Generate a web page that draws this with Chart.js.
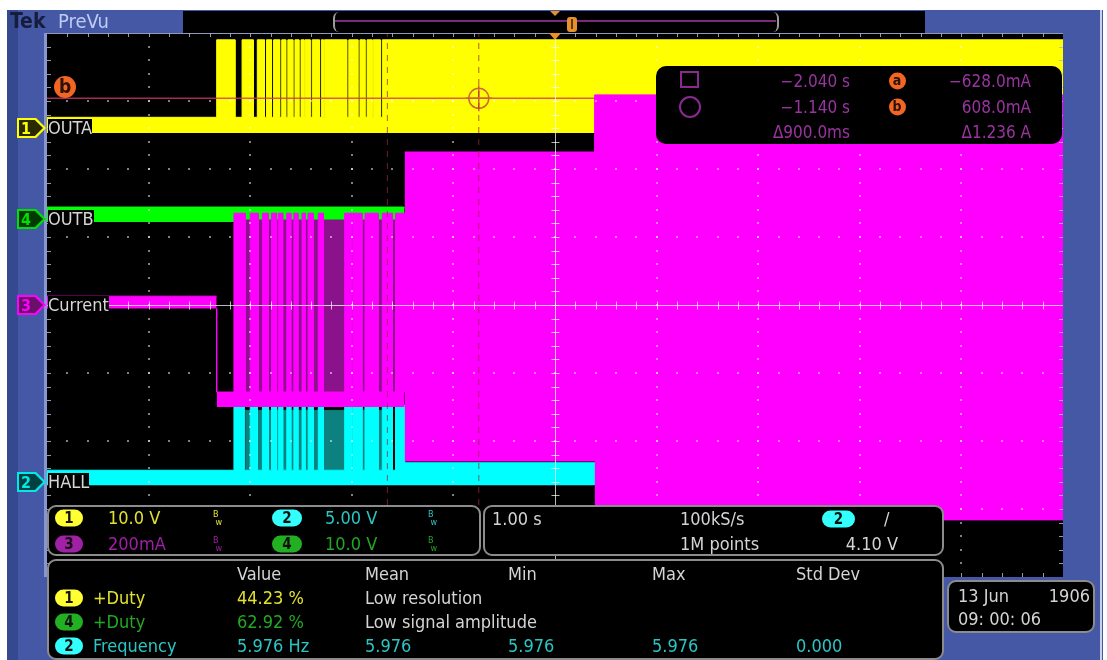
<!DOCTYPE html>
<html>
<head>
<meta charset="utf-8">
<script src="https://cdn.jsdelivr.net/npm/chart.js@4.4.0/dist/chart.umd.min.js"></script>
<style>
html, body { margin: 0; padding: 0; background: #fff; }
body { width: 1107px; height: 660px; overflow: hidden; position: relative;
  font-family: "DejaVu Sans Condensed", "Liberation Sans Narrow", "DejaVu Sans", sans-serif; font-stretch: condensed; }
.box { position: absolute; }
.t { position: absolute; white-space: nowrap; line-height: 1; transform: translateY(-50%); }
.panel { position: absolute; background: #000; border: 2px solid #8c8c8c; border-radius: 9px; box-sizing: border-box; }
#scope { position: absolute; left: 47px; top: 33px; background: #000; }
#overlay { position: absolute; left: 0; top: 0; width: 1107px; height: 660px; }
</style>
</head>
<body>
<div class="box" style="left:7px;top:10px;width:1096px;height:650px;background:#4458a6"></div>
<div class="box" style="left:7px;top:10px;width:11px;height:650px;background:#34498f"></div>
<div class="box" style="left:44px;top:33px;width:3px;height:544px;background:#8796cf"></div>
<div class="box" style="left:1100px;top:10px;width:2px;height:650px;background:#c9d0ea"></div>
<div class="box" style="left:183px;top:11px;width:742px;height:22px;background:#000"></div>
<canvas id="scope" width="1016" height="544"></canvas>
<div id="overlay"></div>
<script>
"use strict";
// screen = 10 div x 1.00 s/div, trigger (t = 0) sits 0.39 div right of centre
const timeSpan = [-5.39, 4.61];
const divSpan = [-4, 4];

// OUTA, ch1 (divisions): base, low top, high top
const outaLevels = [2.53, 2.76, 3.9];
const outaStart = -3.72;
const outaGaps = [[-3.54, -3.47], [-3.36, -3.32], [-3.25, -3.23], [-3.18, -3.16], [-3.10, -3.08],
  [-3.04, -3.02], [-2.97, -2.95], [-2.91, -2.89], [-2.86, -2.85], [-2.80, -2.78], [-2.71, -2.69],
  [-2.67, -2.66], [-2.44, -2.42], [-2.33, -2.31], [-2.26, -2.24], [-2.19, -2.18], [-2.11, -2.09]];

// OUTB, ch4
const outbLevels = [1.22, 1.44];
const outbEnd = -1.87;

// Current, ch3 (200 mA/div)
const currentIdle = [-0.05, 0.13];
const currentDrop = -3.72;
const currentLow = [-1.5, -1.28];
const currentPeak = 1.35;
const currentPulses = [[-3.55, -3.44], [-3.39, -3.31], [-3.27, -3.21], [-3.18, -3.13], [-3.11, -3.07],
  [-3.03, -2.99], [-2.96, -2.92], [-2.88, -2.85], [-2.82, -2.77], [-2.72, -2.67], [-2.46, -2.39],
  [-2.38, -2.29], [-2.26, -2.13], [-2.09, -1.99], [-1.96, -1.87]];
const currentBurstTimes = [-1.87, 0.0];
const currentBurstTop = [2.25, 3.09];
const currentBurstBottom = [-2.3, -3.16];
const currentDim = [-3.44, -1.87, -1.3, 1.25];

// HALL, ch2
const hallLevels = [-2.65, -2.43, -1.47];
const hallAfter = -2.32;
const hallPulses = [[-3.55, -3.45], [-3.39, -3.32], [-3.27, -3.21], [-3.18, -3.13], [-3.11, -3.07],
  [-3.03, -2.99], [-2.96, -2.92], [-2.88, -2.85], [-2.82, -2.77], [-2.72, -2.67], [-2.46, -2.39],
  [-2.38, -2.29], [-2.26, -2.13], [-2.09, -1.99], [-1.96, -1.87]];
const hallDim = [-3.44, -1.99, -2.43, -1.55];

// cursors
const cursorTimes = [-2.04, -1.14];
const cursorCurrentsMA = [-628.0, 608.0];
const currentPerDivMA = 200;

const xMin = timeSpan[0], xMax = timeSpan[1];

function pulseLine(start, end, low, high, pulses) {
  const pts = [{ x: start, y: low }];
  for (const [a, b] of pulses) {
    pts.push({ x: a, y: low }, { x: a, y: high }, { x: b, y: high }, { x: b, y: low });
  }
  pts.push({ x: end, y: low });
  return pts;
}

function band(label, data, color, base) {
  return { label, data, borderColor: color, backgroundColor: color, fill: { value: base },
    borderWidth: 1, pointRadius: 0 };
}

function vline(t, color) {
  return { label: 'cursor', data: [{ x: t, y: divSpan[0] }, { x: t, y: divSpan[1] }],
    borderColor: color, borderDash: [6, 6], borderWidth: 1, fill: false, pointRadius: 0 };
}

// OUTA: high with low gaps
const outaPts = [{ x: xMin, y: outaLevels[1] }, { x: outaStart, y: outaLevels[1] }, { x: outaStart, y: outaLevels[2] }];
for (const [a, b] of outaGaps) {
  outaPts.push({ x: a, y: outaLevels[2] }, { x: a, y: outaLevels[1] }, { x: b, y: outaLevels[1] }, { x: b, y: outaLevels[2] });
}
outaPts.push({ x: xMax, y: outaLevels[2] });

// Current pulse train
const curPts = [{ x: currentDrop, y: currentIdle[0] }, { x: currentDrop, y: currentLow[1] }]
  .concat(pulseLine(currentDrop, currentBurstTimes[0], currentLow[1], currentPeak, currentPulses));

// HALL
const hallPts = pulseLine(xMin, currentBurstTimes[0], hallLevels[1], hallLevels[2], hallPulses);
hallPts.push({ x: currentBurstTimes[0], y: hallAfter }, { x: xMax, y: hallAfter });

const bCur = cursorCurrentsMA[1] / currentPerDivMA;
const cursorColor = 'rgba(150,40,60,0.75)';

const datasets = [
  vline(cursorTimes[0], cursorColor),
  vline(cursorTimes[1], cursorColor),
  { label: 'cross', data: [{ x: cursorTimes[1], y: bCur }], showLine: false, pointRadius: 10,
    pointStyle: 'circle', pointBorderColor: 'rgba(205,95,55,0.95)', pointBackgroundColor: 'rgba(0,0,0,0)', pointBorderWidth: 1.5 },
  { label: 'cross2', data: [{ x: cursorTimes[1], y: bCur }], showLine: false, pointRadius: 13,
    pointStyle: 'cross', pointBorderColor: 'rgba(205,95,55,0.95)', pointBorderWidth: 1.5 },
  band('Current pulses', curPts, '#ff00ff', currentLow[0]),
  band('Current idle', [{ x: xMin, y: currentIdle[1] }, { x: currentDrop, y: currentIdle[1] }], '#ff00ff', currentIdle[0]),
  band('Current burst', [{ x: currentBurstTimes[0], y: currentBurstTop[0] }, { x: currentBurstTimes[1], y: currentBurstTop[0] },
    { x: currentBurstTimes[1], y: currentBurstTop[1] }, { x: xMax, y: currentBurstTop[1] }], '#ff00ff', currentBurstBottom[0]),
  band('Current burst low', [{ x: currentBurstTimes[1], y: currentBurstBottom[1] }, { x: xMax, y: currentBurstBottom[1] }], '#ff00ff', 0),
  band('Current dim', [{ x: currentDim[0], y: currentDim[3] }, { x: currentDim[1], y: currentDim[3] }], '#8a128a', currentDim[2]),
  { label: 'cursor b', data: [{ x: xMin, y: bCur }, { x: xMax, y: bCur }], borderColor: 'rgba(205,55,105,0.8)',
    borderWidth: 1.5, fill: false, pointRadius: 0 },
  band('OUTA', outaPts, '#ffff00', outaLevels[0]),
  band('OUTB', [{ x: xMin, y: outbLevels[1] }, { x: outbEnd, y: outbLevels[1] }], '#00ff00', outbLevels[0]),
  band('HALL', hallPts, '#00ffff', hallLevels[0]),
  band('HALL dim', [{ x: hallDim[0], y: hallDim[3] }, { x: hallDim[1], y: hallDim[3] }], '#0d8080', hallDim[2])
];

const scopeGrid = {
  id: 'scopeGrid',
  afterDatasetsDraw(chart) {
    const { ctx, scales: { x, y }, chartArea: a } = chart;
    const px = v => Math.round(x.getPixelForValue(v));
    const py = v => Math.round(y.getPixelForValue(v));
    ctx.save();
    ctx.fillStyle = 'rgba(255,255,255,0.5)';
    for (let i = 1; i < 10; i++) {
      if (i === 5) continue;
      for (let k = 1; k < 40; k++) ctx.fillRect(px(xMin + i) - 1, py(divSpan[0] + k * 0.2) - 1, 2, 2);
    }
    for (let j = 1; j < 8; j++) {
      if (j === 4) continue;
      for (let k = 1; k < 50; k++) ctx.fillRect(px(xMin + k * 0.2) - 1, py(divSpan[0] + j) - 1, 2, 2);
    }
    // centre cross with minor ticks
    const cx = px(xMin + 5) + 0.5, cy = py(0) + 0.5;
    ctx.strokeStyle = 'rgba(255,255,255,0.72)';
    ctx.lineWidth = 1;
    ctx.beginPath();
    ctx.moveTo(cx, a.top); ctx.lineTo(cx, a.bottom);
    ctx.moveTo(a.left, cy); ctx.lineTo(a.right, cy);
    for (let k = 1; k < 50; k++) { const tx = px(xMin + k * 0.2) + 0.5; ctx.moveTo(tx, cy - 4); ctx.lineTo(tx, cy + 4); }
    for (let k = 1; k < 40; k++) { const ty = py(divSpan[0] + k * 0.2) + 0.5; ctx.moveTo(cx - 4, ty); ctx.lineTo(cx + 4, ty); }
    ctx.stroke();
    // frame ticks
    ctx.strokeStyle = 'rgba(170,180,215,0.85)';
    ctx.beginPath();
    ctx.moveTo(a.left, a.top + 0.5); ctx.lineTo(a.right, a.top + 0.5);
    for (let k = 1; k < 50; k++) { const tx = px(xMin + k * 0.2) + 0.5; ctx.moveTo(tx, a.top); ctx.lineTo(tx, a.top + 4); ctx.moveTo(tx, a.bottom); ctx.lineTo(tx, a.bottom - 4); }
    for (let k = 1; k < 40; k++) { const ty = py(divSpan[0] + k * 0.2) + 0.5; ctx.moveTo(a.left, ty); ctx.lineTo(a.left + 4, ty); ctx.moveTo(a.right, ty); ctx.lineTo(a.right - 4, ty); }
    ctx.stroke();
    ctx.restore();
  }
};

new Chart(document.getElementById('scope'), {
  type: 'line',
  data: { datasets },
  options: {
    responsive: false,
    animation: false,
    events: [],
    layout: { padding: 0, autoPadding: false },
    elements: { point: { radius: 0 }, line: { tension: 0 } },
    scales: {
      x: { type: 'linear', min: xMin, max: xMax, display: false },
      y: { type: 'linear', min: divSpan[0], max: divSpan[1], display: false }
    },
    plugins: { legend: { display: false }, tooltip: { enabled: false }, filler: { propagate: false } }
  },
  plugins: [scopeGrid]
});

// ---- overlay: readouts and labels ----
const overlay = document.getElementById('overlay');
function el(cls, css) {
  const d = document.createElement('div');
  d.className = cls;
  d.style.cssText = css;
  overlay.appendChild(d);
  return d;
}
function txt(s, x, y, color, size, opt) {
  opt = opt || {};
  const d = el('t', '');
  d.textContent = s;
  d.style.top = y + 'px';
  d.style.color = color;
  d.style.fontSize = (size || 18) + 'px';
  if (opt.right) d.style.right = (1107 - x) + 'px'; else d.style.left = x + 'px';
  if (opt.bg) d.style.background = opt.bg;
  if (opt.bold) d.style.fontWeight = 'bold';
  return d;
}
function pill(n, x, y, fill, w) {
  const d = txt(n, x, y, '#111', 15, { bold: true });
  d.style.cssText += `;width:${w}px;height:17px;line-height:17px;text-align:center;background:${fill};border-radius:9px`;
}
function disc(n, cx, cy, d, fill, color) {
  const e = txt(n, cx - d / 2, cy, color, d - 3, { bold: true });
  e.style.cssText += `;width:${d}px;height:${d}px;line-height:${d - 2}px;text-align:center;background:${fill};border-radius:50%`;
}
function bw(x, y, color) {
  const e = txt('', x, y, color, 9);
  e.innerHTML = 'B<br>&nbsp;w';
  e.style.lineHeight = '8px';
}
function marker(n, y, color, dark, label) {
  el('box', `left:17px;top:${y - 10}px;width:29px;height:20px;background:${color};clip-path:polygon(0 0,66% 0,100% 50%,66% 100%,0 100%)`);
  el('box', `left:19px;top:${y - 8}px;width:24px;height:16px;background:${dark};clip-path:polygon(0 0,66% 0,100% 50%,66% 100%,0 100%)`);
  txt(n, 21, y + 1, color, 16, { bold: true });
  txt(label, 48, y, '#d6d6d6', 18, { bg: '#000' });
}

// top bar
txt('Tek', 10, 21, '#151c3c', 21, { bold: true });
txt('PreVu', 58, 21, '#c0cbf2', 20);
el('box', 'left:333px;top:12px;width:446px;height:20px;border-left:2px solid #9a9a9a;border-right:2px solid #9a9a9a;border-radius:6px;box-sizing:border-box');
el('box', 'left:335px;top:20px;width:441px;height:2px;background:#7a2a7c');
el('box', 'left:550px;top:11px;width:0;height:0;border-left:5px solid transparent;border-right:5px solid transparent;border-top:5px solid #e8912a');
el('box', 'left:567px;top:17px;width:10px;height:15px;background:#e8912a;border-radius:3px');
el('box', 'left:571px;top:19px;width:2px;height:10px;background:#5a3a10');
el('box', 'left:549px;top:33px;width:0;height:0;border-left:6px solid transparent;border-right:6px solid transparent;border-top:7px solid #e8912a');

// channel markers
marker('1', 128, '#ffff00', '#2a2a00', 'OUTA');
marker('4', 219, '#00e000', '#003a00', 'OUTB');
marker('3', 305, '#ff00ff', '#6a106a', 'Current');
marker('2', 482, '#00e8e8', '#004040', 'HALL');
disc('b', 65, 87, 22, '#f26522', '#2a1208');

// cursor readout
const cur = '#9a34a0';
el('box', 'left:656px;top:66px;width:406px;height:78px;background:#000;border-radius:10px');
el('box', 'left:680px;top:71px;width:19px;height:17px;border:2px solid #8a2a90;box-sizing:border-box');
el('box', 'left:679px;top:96px;width:22px;height:22px;border:2px solid #8a2a90;border-radius:50%;box-sizing:border-box');
txt('\u22122.040 s', 850, 81, cur, 17, { right: true });
txt('\u22121.140 s', 850, 107, cur, 17, { right: true });
txt('\u0394900.0ms', 850, 132, cur, 17, { right: true });
disc('a', 897, 81, 17, '#f26522', '#2a1208');
disc('b', 897, 107, 17, '#f26522', '#2a1208');
txt('\u2212628.0mA', 1031, 81, cur, 17, { right: true });
txt('608.0mA', 1031, 107, cur, 17, { right: true });
txt('\u03941.236 A', 1031, 132, cur, 17, { right: true });

// vertical / horizontal settings panels
el('panel', 'left:47px;top:505px;width:434px;height:51px');
el('panel', 'left:483px;top:505px;width:461px;height:51px');
el('panel', 'left:47px;top:559px;width:897px;height:101px');
el('panel', 'left:947px;top:580px;width:148px;height:53px');

const yel = '#e2e22e', grn = '#22a822', cya = '#2ac6c6', pur = '#a01ea6', wht = '#d4d4d4';
pill('1', 55, 518, '#ffff33', 28); txt('10.0 V', 108, 518, yel); bw(213, 518, yel);
pill('2', 272, 518, '#33ffff', 30); txt('5.00 V', 325, 518, cya); bw(428, 518, cya);
pill('3', 55, 544, '#a020a6', 28); txt('200mA', 108, 544, pur); bw(213, 544, pur);
pill('4', 272, 544, '#22b022', 30); txt('10.0 V', 325, 544, grn); bw(428, 544, grn);

txt('1.00 s', 492, 519, wht);
txt('100kS/s', 680, 519, wht);
txt('1M points', 680, 544, wht);
pill('2', 822, 519, '#33ffff', 33);
txt('/', 884, 519, wht);
txt('4.10 V', 898, 544, wht, 18, { right: true });

txt('Value', 237, 574, wht); txt('Mean', 365, 574, wht); txt('Min', 508, 574, wht);
txt('Max', 652, 574, wht); txt('Std Dev', 796, 574, wht);
pill('1', 55, 598, '#ffff33', 28); txt('+Duty', 93, 598, yel); txt('44.23 %', 237, 598, yel); txt('Low resolution', 365, 598, wht);
pill('4', 55, 622, '#22b022', 28); txt('+Duty', 93, 622, grn); txt('62.92 %', 237, 622, grn); txt('Low signal amplitude', 365, 622, wht);
pill('2', 55, 646, '#33ffff', 28); txt('Frequency', 93, 646, cya); txt('5.976 Hz', 237, 646, cya);
txt('5.976', 365, 646, cya); txt('5.976', 508, 646, cya); txt('5.976', 652, 646, cya); txt('0.000', 796, 646, cya);

txt('13 Jun', 958, 596, wht); txt('1906', 1090, 596, wht, 18, { right: true });
txt('09: 00: 06', 958, 619, wht);
</script>
</body>
</html>
